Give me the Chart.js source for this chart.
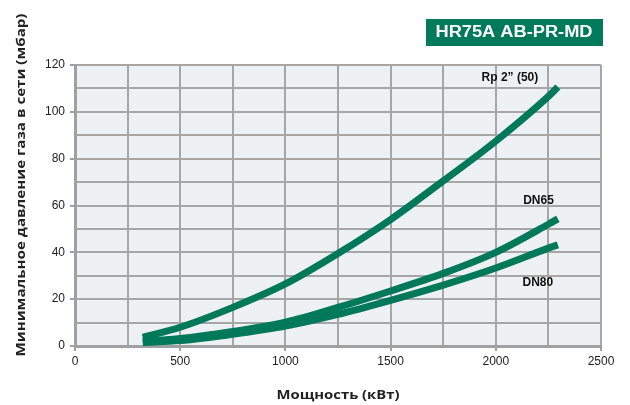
<!DOCTYPE html>
<html>
<head>
<meta charset="utf-8">
<title>HR75A AB-PR-MD</title>
<script src="https://cdn.jsdelivr.net/npm/chart.js@4/dist/chart.umd.min.js"></script>
<style>
  html, body { margin: 0; padding: 0; background: #ffffff; }
  #wrap { width: 630px; height: 405px; }
</style>
</head>
<body>
<div id="wrap"><canvas id="chart" width="630" height="405"></canvas></div>
<script>
// Gas pressure loss curves for the HR75A AB-PR-MD gas train
const chartTitle = 'HR75A AB-PR-MD';
const xTitle = 'Мощность (кВт)';
const yTitle = 'Минимальное давление газа в сети (мбар)';
const seriesNames = ['Rp 2” (50)', 'DN65', 'DN80'];

// Power, kW
const powerKw = [322, 500, 750, 1000, 1250, 1500, 1750, 2000, 2250, 2295];
// Minimum inlet pressure, mbar
const pressureRp2 = [3.7, 8.0, 16.5, 26.5, 39.5, 54.0, 70.5, 87.5, 106.6, 110.6];
const pressureDN65 = [2.0, 3.2, 6.2, 10.2, 16.5, 23.5, 31.0, 40.0, 52.0, 54.3];
const pressureDN80 = [1.5, 2.3, 5.0, 8.5, 13.5, 19.5, 26.0, 33.3, 41.8, 43.2];

// Where each curve name sits, in axis units (kW, mbar)
const nameAnchorKw = [2067, 2203, 2200];
const nameAnchorMbar = [114.5, 62.2, 26.9];

const GREEN = '#00785A';
const GRID = '#a6a6a6';
const AXIS = '#a0a0a0';
const TEXT = '#222222';

function toPoints(xs, ys) {
  return xs.map((x, i) => ({ x: x, y: ys[i] }));
}

function curve(label, values) {
  return {
    label: label,
    data: toPoints(powerKw, values),
    borderColor: GREEN,
    backgroundColor: GREEN,
    borderWidth: 7,
    borderCapStyle: 'butt',
    borderJoinStyle: 'round',
    pointRadius: 0,
    cubicInterpolationMode: 'monotone',
    fill: false
  };
}

// Draws text scaled horizontally so it covers a given width
function fitText(ctx, text, x, y, width) {
  const w = ctx.measureText(text).width;
  ctx.save();
  ctx.translate(x, y);
  ctx.scale(width / w, 1);
  ctx.fillText(text, 0, 0);
  ctx.restore();
}

const decorations = {
  id: 'decorations',
  beforeDraw(chart) {
    const { ctx, chartArea: a } = chart;
    ctx.save();
    ctx.fillStyle = '#eef1f4';
    ctx.fillRect(a.left, a.top, a.right - a.left, a.bottom - a.top);
    ctx.restore();
  },
  afterDraw(chart) {
    const { ctx, chartArea: a, scales } = chart;
    ctx.save();

    // header badge
    ctx.fillStyle = '#007a5a';
    ctx.fillRect(426, 19, 177, 27);
    ctx.fillStyle = '#ffffff';
    ctx.font = 'bold 16px "Liberation Sans", Arial, sans-serif';
    ctx.textAlign = 'center';
    ctx.textBaseline = 'middle';
    fitText(ctx, chartTitle, 514, 33, 157);

    // axis titles
    ctx.fillStyle = TEXT;
    ctx.font = 'bold 13px "Open Sans", "DejaVu Sans", sans-serif';
    fitText(ctx, xTitle, (a.left + a.right) / 2, 395, 123);
    ctx.save();
    ctx.translate(21, 185);
    ctx.rotate(-Math.PI / 2);
    fitText(ctx, yTitle, 0, 0, 343);
    ctx.restore();

    // curve names
    ctx.font = 'bold 12px "Liberation Sans", Arial, sans-serif';
    ctx.fillStyle = '#111111';
    seriesNames.forEach((name, i) => {
      const px = scales.x.getPixelForValue(nameAnchorKw[i]);
      const py = scales.y.getPixelForValue(nameAnchorMbar[i]);
      ctx.fillText(name, px, py);
    });
    ctx.restore();
  }
};

const tickFont = { family: '"Liberation Sans", Arial, sans-serif', size: 12 };

new Chart(document.getElementById('chart'), {
  type: 'line',
  data: {
    datasets: [
      curve(seriesNames[0], pressureRp2),
      curve(seriesNames[1], pressureDN65),
      curve(seriesNames[2], pressureDN80)
    ]
  },
  options: {
    responsive: false,
    animation: false,
    layout: { padding: { left: 0, top: 65, right: 29, bottom: 0 } },
    plugins: { legend: { display: false }, tooltip: { enabled: false } },
    scales: {
      x: {
        type: 'linear',
        min: 0,
        max: 2500,
        afterFit: (s) => { s.height = 59; },
        ticks: {
          stepSize: 250,
          autoSkip: false,
          maxRotation: 0,
          padding: 3,
          color: TEXT,
          font: tickFont,
          callback: (v) => (v % 500 === 0 ? String(v) : '')
        },
        grid: {
          color: GRID,
          lineWidth: 2,
          tickLength: 5,
          tickColor: (c) => (c.tick && c.tick.value % 500 === 0 ? AXIS : 'rgba(0,0,0,0)')
        },
        border: { color: AXIS, width: 3 }
      },
      y: {
        type: 'linear',
        min: 0,
        max: 120,
        afterFit: (s) => { s.width = 75; },
        ticks: {
          stepSize: 10,
          autoSkip: false,
          padding: 5,
          color: TEXT,
          font: tickFont,
          callback: (v) => (v % 20 === 0 ? String(v) : '')
        },
        grid: {
          color: GRID,
          lineWidth: 2,
          tickLength: 5,
          tickColor: (c) => (c.tick && c.tick.value % 20 === 0 ? AXIS : 'rgba(0,0,0,0)')
        },
        border: { color: AXIS, width: 3 }
      }
    }
  },
  plugins: [decorations]
});
</script>
</body>
</html>
